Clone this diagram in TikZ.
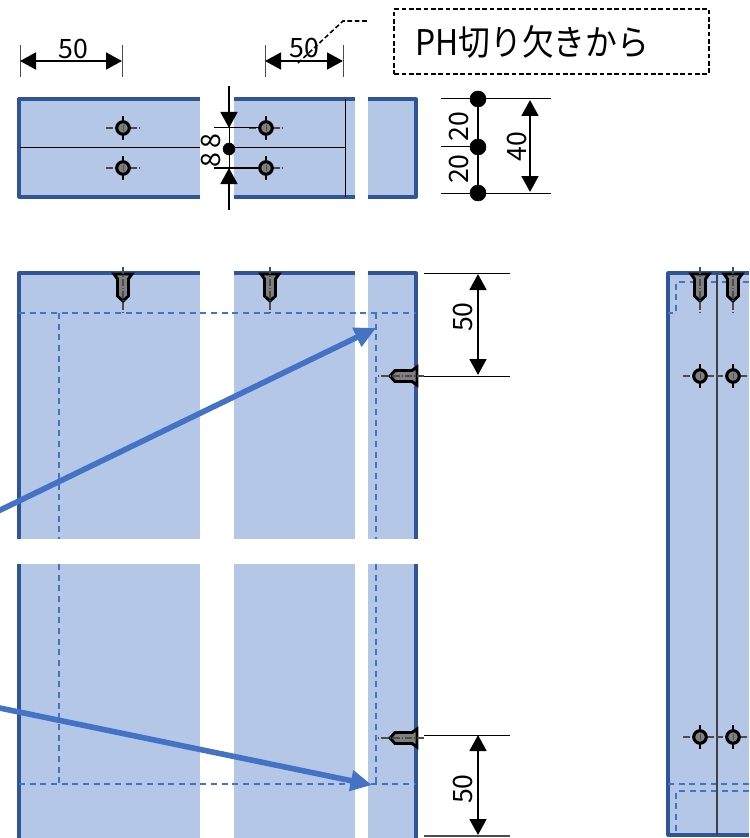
\documentclass[tikz,border=0pt]{standalone}
\usepackage{fontspec}
\usetikzlibrary{arrows.meta}
\newfontfamily\jpfont{Noto Sans CJK JP}
\definecolor{panelfill}{HTML}{B4C7E7}
\definecolor{panelline}{HTML}{2F5597}
\definecolor{cutline}{HTML}{4472C4}
\definecolor{screwgray}{HTML}{7F7F7F}
\tikzset{
  dimtext/.style={font=\jpfont\fontsize{20}{24}\selectfont,inner sep=0pt},
  notetext/.style={font=\jpfont\fontsize{26.5}{30}\selectfont,inner sep=0pt,xscale=0.9,transform shape},
  panel/.style={fill=panelfill,draw=none},
  panelborder/.style={color=panelline,line width=2.4pt},
  hidden/.style={draw=cutline,line width=0.8pt,dash pattern=on 4.5pt off 3.5pt},
  thinline/.style={draw=black,line width=0.75pt},
  notedash/.style={draw=black,line width=1.15pt,dash pattern=on 3.5pt off 2pt},
  dimarrow/.style={line width=2.1pt,{Triangle[length=12pt,width=12.5pt]}-{Triangle[length=12pt,width=12.5pt]}},
  dimstop/.style={line width=2.1pt,-{Triangle[length=12pt,width=12.5pt]}},
  bigarrow/.style={draw=cutline,line width=4.2pt,-{Triangle[length=16pt,width=15pt]}},
  centermark/.style={draw=black!70,line width=0.8pt,dash pattern=on 5pt off 1.5pt on 1pt off 1.5pt}
}
\newcommand{\holemark}[2]{%
  \draw[centermark] (#1-17,#2) -- (#1+17,#2);
  \draw[black,line width=0.8pt] (#1,#2-12) -- (#1,#2+12);
  \draw[black,line width=2.3pt,fill=screwgray] (#1,#2) circle (4.7pt);
  \draw[black!70,line width=0.6pt] (#1,#2-3) -- (#1,#2+3);
}
\newcommand{\screwmark}[3]{%
  \begin{scope}[shift={(#1,#2)},rotate=#3]
  \draw[black,line width=2.2pt,fill=screwgray,line join=miter] (-9,0) -- (9,0) -- (5.5,5) -- (5.5,22) -- (0,27) -- (-5.5,22) -- (-5.5,5) -- cycle;
  \draw[centermark] (0,-7) -- (0,39);
  \end{scope}
}
\begin{document}
\begin{tikzpicture}[line cap=butt,line join=round,x=0.75pt,y=-0.75pt]
\useasboundingbox (0,0) rectangle (749,838);
\clip (0,0) rectangle (749,838);

% top view
\fill[panel] (19,99) rectangle (200,197);
\fill[panel] (234,99) rectangle (355,197);
\fill[panel] (368,99) rectangle (416,197);
\draw[panelborder] (200,99) -- (19,99) -- (19,197) -- (200,197);
\draw[panelborder] (234,99) -- (355,99);
\draw[panelborder] (234,197) -- (355,197);
\draw[panelborder] (368,99) -- (416,99) -- (416,197) -- (368,197);
\draw[thinline] (20,148) -- (200,148);
\draw[thinline] (234,148) -- (345,148);
\draw[thinline] (345,99) -- (345,197);
\holemark{123}{128}
\holemark{123}{168}
\holemark{266}{128}
\holemark{266}{168}

% widths
\draw[thinline,black!70] (20,45) -- (20,77);
\draw[thinline,black!70] (122,45) -- (122,77);
\draw[dimarrow] (20,61) -- (122,61);
\node[dimtext] (width_a) at (73,49) {50};
\draw[thinline,black!70] (265,45) -- (265,77);
\draw[thinline,black!70] (343,45) -- (343,77);
\draw[dimarrow] (265,61) -- (343,61);
\node[dimtext] (width_b) at (304,48) {50};

% note
\node[notedash,minimum width=236pt,minimum height=48.5pt,inner sep=0pt] (note_box) at (551.5,41.5) {};
\node[notetext,anchor=west] (note_text) at (415,42) {PH切り欠きから};
\draw[notedash] (298,63) -- (343,21) -- (369,21);

% 8 8
\draw[dimstop] (229,86) -- (229,128);
\draw[dimstop] (229,210) -- (229,168);
\draw[thinline] (229,128) -- (229,168);
\draw[thinline] (214,128) -- (259,128);
\draw[thinline] (214,168) -- (259,168);
\draw[fill=black] (229,149) circle (4.5pt);
\node[dimtext,rotate=90] (gap_a) at (211,141) {8};
\node[dimtext,rotate=90] (gap_b) at (211,160) {8};

% height of the holes
\draw[thinline] (441,99) -- (551,99);
\draw[thinline] (441,193) -- (551,193);
\draw[thinline] (441,147) -- (478,147);
\draw[line width=2.1pt] (478,99) -- (478,193);
\draw[fill=black] (478,99) circle (6pt);
\draw[fill=black] (478,147) circle (6pt);
\draw[fill=black] (478,193) circle (6pt);
\node[dimtext,rotate=90] (pitch_a) at (459,127) {20};
\node[dimtext,rotate=90] (pitch_b) at (459,169) {20};
\draw[dimarrow] (530,100) -- (530,192);
\node[dimtext,rotate=90] (pitch_c) at (517,147) {40};

% front view
\fill[panel] (19,273) rectangle (200,539);
\fill[panel] (234,273) rectangle (355,539);
\fill[panel] (368,273) rectangle (416,539);
\fill[panel] (19,564) rectangle (200,838);
\fill[panel] (234,564) rectangle (355,838);
\fill[panel] (368,564) rectangle (416,838);
\draw[panelborder] (19,539) -- (19,273) -- (200,273);
\draw[panelborder] (234,273) -- (355,273);
\draw[panelborder] (368,273) -- (416,273) -- (416,539);
\draw[panelborder] (19,564) -- (19,838);
\draw[panelborder] (416,564) -- (416,838);
\draw[hidden] (19,313) -- (416,313);
\draw[hidden] (19,784) -- (416,784);
\draw[hidden] (59,313) -- (59,539);
\draw[hidden] (59,564) -- (59,784);
\draw[hidden] (376,313) -- (376,539);
\draw[hidden] (376,564) -- (376,784);
\screwmark{123}{274}{0}
\screwmark{270}{274}{0}
\screwmark{417}{376}{-90}
\screwmark{417}{738}{-90}

% blue arrows
\draw[bigarrow] (-10,515) -- (376,328);
\draw[bigarrow] (-10,706) -- (372,785);

% 50 at the top and the bottom
\draw[thinline] (424,273) -- (510,273);
\draw[thinline] (424,376) -- (510,376);
\draw[dimarrow] (478,274) -- (478,375);
\node[dimtext,rotate=90] (edge_a) at (463,317) {50};
\draw[thinline] (424,735) -- (510,735);
\draw[line width=1.5pt,black!70] (424,836) -- (510,836);
\draw[dimarrow] (478,735) -- (478,835);
\node[dimtext,rotate=90] (edge_b) at (463,789) {50};

% side view
\fill[panel] (668,273) rectangle (749,835);
\draw[panelborder] (749,273) -- (668,273) -- (668,835) -- (749,835);
\draw[hidden] (749,282) -- (676,282) -- (676,313) -- (668,313);
\draw[hidden] (668,784) -- (749,784);
\draw[hidden] (749,791) -- (676,791) -- (676,835);
\draw[line width=1pt,black!75] (717,273) -- (717,835);
\screwmark{700}{274}{0}
\screwmark{733}{274}{0}
\holemark{700}{376}
\holemark{733}{376}
\holemark{700}{737}
\holemark{733}{737}
\end{tikzpicture}
\end{document}
